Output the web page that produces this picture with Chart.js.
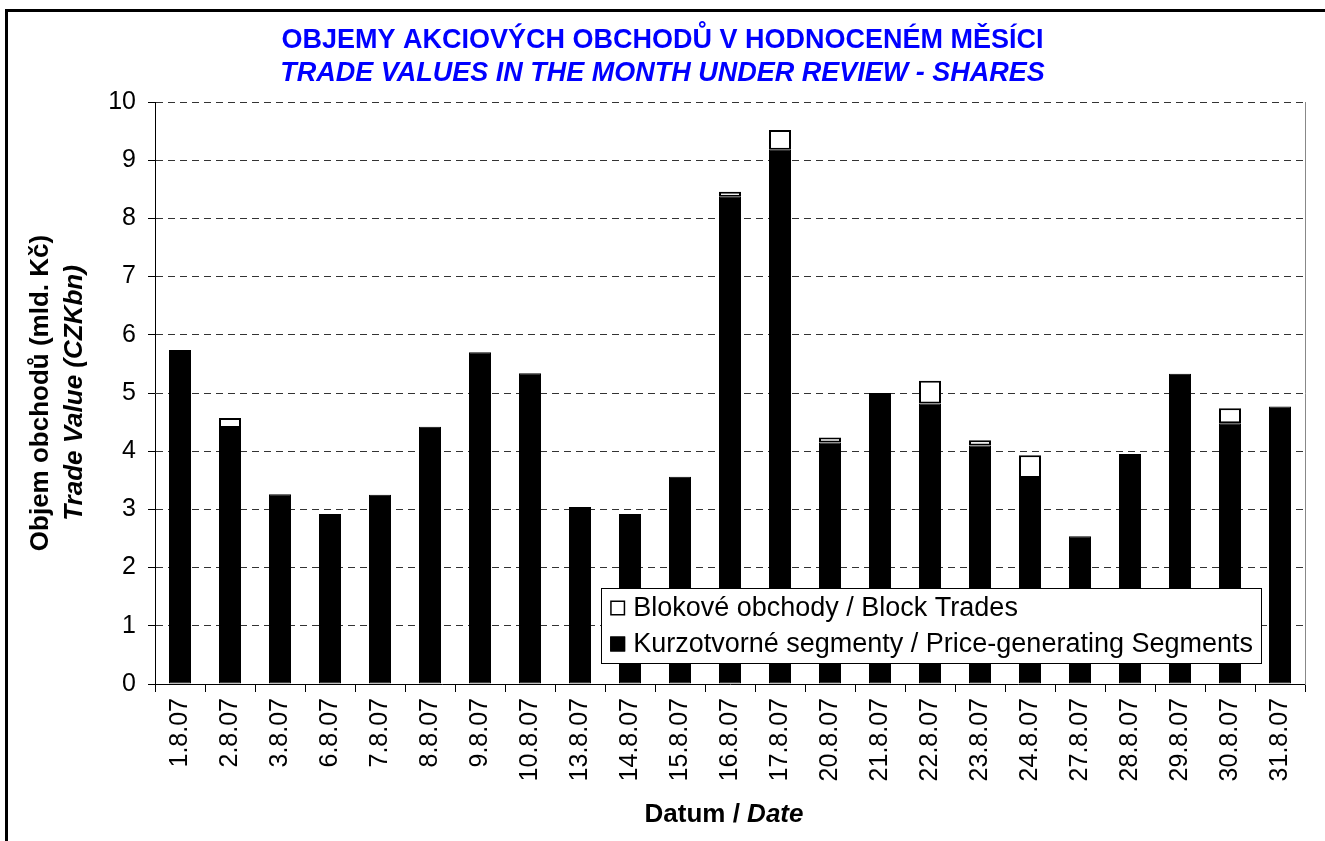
<!DOCTYPE html>
<html><head><meta charset="utf-8">
<script src="https://cdn.jsdelivr.net/npm/chart.js@4.4.1/dist/chart.umd.min.js"></script>
<style>
html,body{margin:0;padding:0;background:#fff;}
#wrap{position:relative;width:1325px;height:841px;overflow:hidden;background:#fff;}
#frame{position:absolute;left:5px;top:9px;width:1400px;height:900px;border-top:3px solid #000;border-left:3px solid #000;}
canvas{position:absolute;left:0;top:0;}
</style></head><body>
<div id="wrap"><div id="frame"></div><canvas id="c" width="1325" height="841"></canvas></div>
<script>
// ---- data ----
const categories = ['1.8.07','2.8.07','3.8.07','6.8.07','7.8.07','8.8.07','9.8.07','10.8.07','13.8.07','14.8.07','15.8.07','16.8.07','17.8.07','20.8.07','21.8.07','22.8.07','23.8.07','24.8.07','27.8.07','28.8.07','29.8.07','30.8.07','31.8.07'];
const priceGenerating = [5.74,4.40,3.26,2.92,3.25,4.42,5.70,5.34,3.04,2.92,3.56,8.37,9.18,4.15,5.00,4.82,4.10,3.54,2.54,3.95,5.33,4.48,4.77];
const blockTrades     = [0,0.17,0,0,0,0,0,0,0,0,0,0.09,0.34,0.085,0,0.39,0.09,0.39,0,0,0,0.26,0];
const yTickValues = [0,1,2,3,4,5,6,7,8,9,10];
const titleLine1 = 'OBJEMY AKCIOVÝCH OBCHODŮ V HODNOCENÉM MĚSÍCI';
const titleLine2 = 'TRADE VALUES IN THE MONTH UNDER REVIEW - SHARES';
const yTitle1 = 'Objem obchodů (mld. Kč)';
const yTitle2 = 'Trade Value (CZKbn)';
const xTitleA = 'Datum / ';
const xTitleB = 'Date';
const labelBlock = 'Blokové obchody / Block Trades';
const labelPrice = 'Kurzotvorné segmenty / Price-generating Segments';

const FF = '"Liberation Sans", Arial, Helvetica, sans-serif';

const axisTitles = {
  id: 'axisTitles',
  afterDraw(chart) {
    const {ctx, chartArea} = chart;
    const cy = (chartArea.top + chartArea.bottom) / 2;
    ctx.save();
    ctx.fillStyle = '#000';
    ctx.textAlign = 'center';
    ctx.textBaseline = 'middle';
    ctx.translate(41, cy);
    ctx.rotate(-Math.PI / 2);
    ctx.font = 'bold 26px ' + FF;
    ctx.fillText(yTitle1, 0, 0);
    ctx.restore();
    ctx.save();
    ctx.fillStyle = '#000';
    ctx.textAlign = 'center';
    ctx.textBaseline = 'middle';
    ctx.translate(75, cy);
    ctx.rotate(-Math.PI / 2);
    ctx.font = 'italic bold 26px ' + FF;
    ctx.fillText(yTitle2, 0, 0);
    ctx.restore();
    // x title
    ctx.save();
    ctx.fillStyle = '#000';
    ctx.textBaseline = 'middle';
    ctx.textAlign = 'left';
    ctx.font = 'bold 26px ' + FF;
    const wA = ctx.measureText(xTitleA).width;
    ctx.font = 'italic bold 26px ' + FF;
    const wB = ctx.measureText(xTitleB).width;
    const cx = (chartArea.left + chartArea.right) / 2 - 6;
    const x0 = cx - (wA + wB) / 2;
    ctx.font = 'bold 26px ' + FF;
    ctx.fillText(xTitleA, x0, 815);
    ctx.font = 'italic bold 26px ' + FF;
    ctx.fillText(xTitleB, x0 + wA, 815);
    ctx.restore();
  }
};

const legendBox = {
  id: 'legendBox',
  afterDraw(chart) {
    const {ctx, chartArea} = chart;
    const ds = chart.data.datasets;
    const items = [ds[1], ds[0]];
    ctx.save();
    ctx.font = '27px ' + FF;
    const textW = Math.max(...items.map(d => ctx.measureText(d.label).width));
    const padL = 9, mk = 15, gap = 8, padR = 8, rowH = 36, h = 75;
    const right = chartArea.right - 44;
    const bottom = chartArea.bottom - 21;
    const top = bottom - h;
    const left = right - (padL + mk + gap + textW + padR);
    ctx.fillStyle = '#fff';
    ctx.fillRect(left, top, right - left, h);
    ctx.strokeStyle = '#000';
    ctx.lineWidth = 1;
    ctx.strokeRect(Math.round(left) + 0.5, Math.round(top) + 0.5, Math.round(right - left), h);
    items.forEach((d, i) => {
      const cy = top + 20 + i * rowH;
      const mx = left + padL, my = cy - mk / 2;
      ctx.fillStyle = d.backgroundColor;
      ctx.fillRect(mx, my, mk, mk);
      ctx.strokeStyle = '#000';
      ctx.lineWidth = 1.5;
      ctx.strokeRect(mx + 0.75, my + 0.75, mk - 1.5, mk - 1.5);
      ctx.fillStyle = '#000';
      ctx.textBaseline = 'middle';
      ctx.textAlign = 'left';
      ctx.fillText(d.label, mx + mk + gap, cy + 1);
    });
    ctx.restore();
  }
};

new Chart(document.getElementById('c'), {
  type: 'bar',
  data: {
    labels: categories,
    datasets: [
      {
        label: labelPrice,
        data: priceGenerating,
        backgroundColor: '#000',
        borderColor: '#000',
        borderWidth: 1,
        borderSkipped: false,
        barPercentage: 0.44,
        categoryPercentage: 1,
        stack: 's'
      },
      {
        label: labelBlock,
        data: blockTrades,
        backgroundColor: '#fff',
        borderColor: '#000',
        borderWidth: c => (c.raw ? 2 : 0),
        borderSkipped: false,
        barPercentage: 0.44,
        categoryPercentage: 1,
        stack: 's'
      }
    ]
  },
  options: {
    responsive: false,
    devicePixelRatio: 1,
    animation: false,
    layout: { padding: { left: 0, right: 0, top: 0, bottom: 60 } },
    plugins: {
      legend: { display: false },
      tooltip: { enabled: false },
      title: {
        display: true,
        text: titleLine1,
        color: '#0000ff',
        font: { family: FF, size: 27, weight: 'bold', lineHeight: 1.2 },
        padding: { top: 24, bottom: 0 }
      },
      subtitle: {
        display: true,
        text: titleLine2,
        color: '#0000ff',
        font: { family: FF, size: 27, weight: 'bold', style: 'italic', lineHeight: 1.2 },
        padding: { top: 1, bottom: 12.2 }
      }
    },
    scales: {
      x: {
        stacked: true,
        offset: true,
        grid: { display: true, drawOnChartArea: false, drawTicks: true, tickLength: 8, tickColor: '#000', offset: true },
        border: { display: true, color: '#000', width: 1 },
        ticks: { color: '#000', font: { family: FF, size: 25 }, minRotation: 90, maxRotation: 90, padding: 6, autoSkip: false },
        afterFit(s) { s.height = 841 - 60 - 684; }
      },
      y: {
        stacked: true,
        min: 0,
        max: 10,
        afterBuildTicks(s) { s.ticks = yTickValues.map(v => ({ value: v })); },
        grid: { display: true, color: '#333', lineWidth: 1, drawTicks: true, tickLength: 7, tickColor: '#000', tickBorderDash: [] },
        border: { display: true, color: '#000', width: 1, dash: [7, 5] },
        ticks: { color: '#000', font: { family: FF, size: 25 }, padding: 12 },
        afterFit(s) { s.width = 155; }
      },
      y2: {
        position: 'right',
        display: true,
        grid: { display: false, drawTicks: false },
        ticks: { display: false },
        border: { display: true, color: '#888', width: 1 },
        afterFit(s) { s.width = 20; }
      }
    }
  },
  plugins: [axisTitles, legendBox]
});
</script>
</body></html>
